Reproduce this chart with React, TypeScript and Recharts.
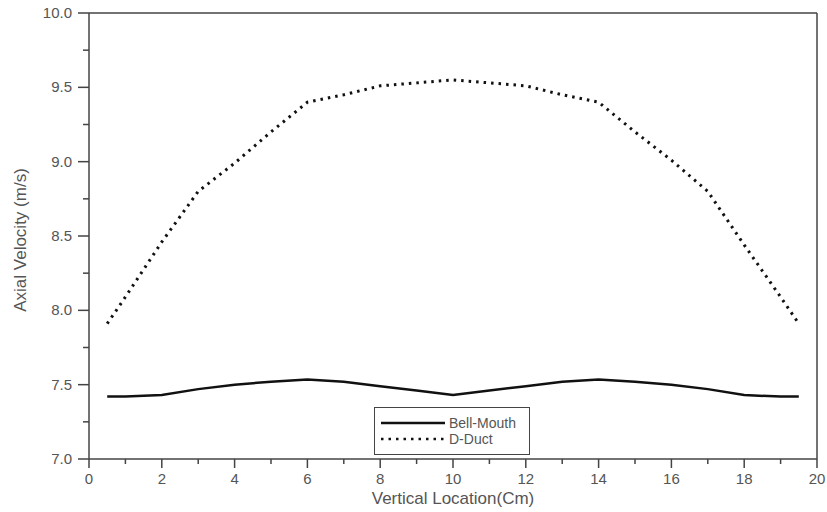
import { LineChart, Line, XAxis, YAxis, ReferenceLine } from 'recharts'

const LOCATIONS = [0.5, 1, 2, 3, 4, 5, 6, 7, 8, 9, 10, 11, 12, 13, 14, 15, 16, 17, 18, 19, 19.5]
const BELL_MOUTH = [7.42, 7.42, 7.43, 7.47, 7.5, 7.52, 7.535, 7.52, 7.49, 7.46, 7.43, 7.46, 7.49, 7.52, 7.535, 7.52, 7.5, 7.47, 7.43, 7.42, 7.42]
const D_DUCT = [7.91, 8.09, 8.46, 8.8, 8.99, 9.2, 9.4, 9.45, 9.51, 9.53, 9.55, 9.53, 9.51, 9.45, 9.4, 9.2, 9.01, 8.8, 8.44, 8.09, 7.91]

const X_TICKS = [0, 1, 2, 3, 4, 5, 6, 7, 8, 9, 10, 11, 12, 13, 14, 15, 16, 17, 18, 19, 20]
const Y_TICKS = [7, 7.25, 7.5, 7.75, 8, 8.25, 8.5, 8.75, 9, 9.25, 9.5, 9.75, 10]

const data = LOCATIONS.map((x, i) => ({ x, bell: BELL_MOUTH[i], duct: D_DUCT[i] }))

const AXIS = '#444'
const TEXT = '#555'
const FONT = '"Liberation Sans", Arial, sans-serif'

function XTick({ x, y, payload }: any) {
  const major = payload.value % 2 === 0
  return (
    <g>
      <line x1={x} y1={y} x2={x} y2={y + (major ? 9 : 5)} stroke={AXIS} strokeWidth={1.5} />
      {major && (
        <text x={x} y={y + 25} textAnchor="middle" fill={TEXT} fontSize={15} fontFamily={FONT}>
          {payload.value}
        </text>
      )}
    </g>
  )
}

function YTick({ x, y, payload }: any) {
  const major = Math.abs(payload.value * 2 - Math.round(payload.value * 2)) < 1e-6
  return (
    <g>
      <line x1={x} y1={y} x2={x - (major ? 11 : 6)} y2={y} stroke={AXIS} strokeWidth={1.5} />
      {major && (
        <text x={x - 17} y={y + 5} textAnchor="end" fill={TEXT} fontSize={15} fontFamily={FONT}>
          {payload.value.toFixed(1)}
        </text>
      )}
    </g>
  )
}

function LegendBox() {
  return (
    <div style={{ position: 'absolute', left: 374, top: 407, width: 142, border: '1.5px solid #444', background: '#fff', padding: '7px 6px', fontFamily: FONT, fontSize: 14, color: TEXT, lineHeight: '16px' }}>
      <div style={{ display: 'flex', alignItems: 'center' }}>
        <svg width={64} height={8}><line x1={0} y1={4} x2={64} y2={4} stroke="#111" strokeWidth={2.5} /></svg>
        <span style={{ marginLeft: 4 }}>Bell-Mouth</span>
      </div>
      <div style={{ display: 'flex', alignItems: 'center' }}>
        <svg width={64} height={8}><line x1={0} y1={4} x2={64} y2={4} stroke="#111" strokeWidth={2.5} strokeDasharray="2.5 5" /></svg>
        <span style={{ marginLeft: 4 }}>D-Duct</span>
      </div>
    </div>
  )
}

export default function App() {
  return (
    <div style={{ position: 'absolute', left: 0, top: 0, width: 827, height: 512, background: '#fff' }}>
      <LineChart width={827} height={512} data={data} margin={{ top: 13, right: 10, left: 0, bottom: 0 }}>
        <XAxis
          dataKey="x"
          type="number"
          domain={[0, 20]}
          ticks={X_TICKS}
          interval={0}
          tickSize={0}
          tickMargin={0}
          tickLine={false}
          tick={<XTick />}
          axisLine={{ stroke: AXIS, strokeWidth: 1.5 }}
          height={53}
          label={{
            content: () => (
              <text x={453} y={504} textAnchor="middle" fill={TEXT} fontSize={17} fontFamily={FONT}>
                Vertical Location(Cm)
              </text>
            ),
          }}
        />
        <YAxis
          type="number"
          domain={[7, 10]}
          ticks={Y_TICKS}
          interval={0}
          tickSize={0}
          tickMargin={0}
          tickLine={false}
          tick={<YTick />}
          axisLine={{ stroke: AXIS, strokeWidth: 1.5 }}
          width={89}
          label={{
            content: () => (
              <text x={26} y={240} transform="rotate(-90 26 240)" textAnchor="middle" fill={TEXT} fontSize={17} fontFamily={FONT}>
                Axial Velocity (m/s)
              </text>
            ),
          }}
        />
        <ReferenceLine y={10} stroke={AXIS} strokeWidth={1.5} />
        <ReferenceLine x={20} stroke={AXIS} strokeWidth={1.5} />
        <Line type="linear" dataKey="bell" name="Bell-Mouth" stroke="#111" strokeWidth={2.5} dot={false} isAnimationActive={false} />
        <Line type="linear" dataKey="duct" name="D-Duct" stroke="#111" strokeWidth={3} strokeDasharray="2.5 5" dot={false} isAnimationActive={false} />
      </LineChart>
      <LegendBox />
    </div>
  )
}
